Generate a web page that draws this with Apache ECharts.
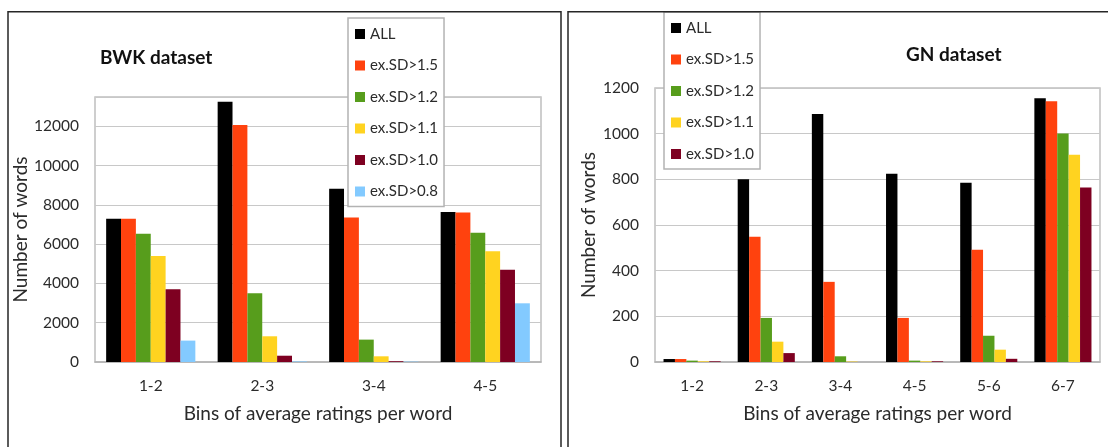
<!DOCTYPE html>
<html>
<head>
<meta charset="utf-8">
<script src="https://cdn.jsdelivr.net/npm/echarts@6/dist/echarts.min.js"></script>
<style>
html,body{margin:0;padding:0;background:#fff;}
#chart{width:1108px;height:447px;}
</style>
</head>
<body>
<div id="chart"></div>
<script>
// ---- Data ----
const seriesNames = ['ALL', 'ex.SD>1.5', 'ex.SD>1.2', 'ex.SD>1.1', 'ex.SD>1.0', 'ex.SD>0.8'];
const seriesColors = ['#000000', '#ff420e', '#579d1c', '#ffd320', '#7e0021', '#83caff'];

const categoriesBWK = ['1-2', '2-3', '3-4', '4-5'];
const bwkAll  = [7300, 13260, 8820, 7640];
const bwkSD15 = [7300, 12070, 7360, 7610];
const bwkSD12 = [6530, 3500, 1140, 6580];
const bwkSD11 = [5400, 1310, 290, 5640];
const bwkSD10 = [3710, 320, 40, 4700];
const bwkSD08 = [1090, 30, 20, 2990];

const categoriesGN = ['1-2', '2-3', '3-4', '4-5', '5-6', '6-7'];
const gnAll  = [13, 800, 1086, 825, 785, 1155];
const gnSD15 = [13, 548, 351, 193, 492, 1142];
const gnSD12 = [6, 193, 25, 6, 115, 1001];
const gnSD11 = [3, 89, 2, 3, 54, 908];
const gnSD10 = [3, 39, 0, 3, 14, 764];

const titleBWK = 'BWK dataset';
const titleGN = 'GN dataset';
const xAxisTitle = 'Bins of average ratings per word';
const yAxisTitle = 'Number of words';

// ---- Chart ----
const FONT = 'Lato';
const TXT = '#2b2b2b';
const chart = echarts.init(document.getElementById('chart'), null, {renderer: 'canvas'});

const bwkData = [bwkAll, bwkSD15, bwkSD12, bwkSD11, bwkSD10, bwkSD08];
const gnData = [gnAll, gnSD15, gnSD12, gnSD11, gnSD10];

const series = [];
bwkData.forEach((d, i) => series.push({
  name: seriesNames[i], type: 'bar', xAxisIndex: 0, yAxisIndex: 0,
  data: d, barGap: '0%', barCategoryGap: '20%',
  itemStyle: {color: seriesColors[i]}
}));
gnData.forEach((d, i) => series.push({
  name: seriesNames[i], type: 'bar', xAxisIndex: 1, yAxisIndex: 1,
  data: d, barGap: '0%', barCategoryGap: '23%',
  itemStyle: {color: seriesColors[i]}
}));

function xAxisCfg(idx, cats) {
  return {
    type: 'category', gridIndex: idx, data: cats,
    axisLine: {show: true, lineStyle: {color: '#b3b3b3', width: 1.5}},
    axisTick: {show: false},
    axisLabel: {color: TXT, fontFamily: FONT, fontSize: 15.5, margin: 16},
    name: xAxisTitle, nameLocation: 'middle', nameGap: 42,
    nameTextStyle: {color: TXT, fontFamily: FONT, fontSize: 19}
  };
}
function yAxisCfg(idx, max, interval, gap) {
  return {
    type: 'value', gridIndex: idx, min: 0, max: max, interval: interval,
    axisLine: {show: false}, axisTick: {show: false},
    axisLabel: {color: TXT, fontFamily: FONT, fontSize: 15.5, margin: 16,
      showMaxLabel: max % interval === 0, formatter: v => String(v)},
    splitLine: {show: true, lineStyle: {color: '#c8c8c8', width: 1}},
    name: yAxisTitle, nameLocation: 'middle', nameGap: gap,
    nameTextStyle: {color: TXT, fontFamily: FONT, fontSize: 19}
  };
}

function legendCfg(names, left, top) {
  return {
    data: names, orient: 'vertical', left: left, top: top,
    itemWidth: 10, itemHeight: 10, itemGap: 15.5,
    padding: [8, 6, 7, 7],
    borderColor: '#b3b3b3', borderWidth: 1.5, backgroundColor: '#ffffff',
    icon: 'rect',
    textStyle: {color: TXT, fontFamily: FONT, fontSize: 15, lineHeight: 16},
    selectedMode: false
  };
}

const frameStyle = {stroke: '#262626', lineWidth: 1.5};

chart.setOption({
  animation: false,
  backgroundColor: '#ffffff',
  textStyle: {fontFamily: FONT},
  title: [
    {text: titleBWK, left: 95, top: 43, textStyle: {fontFamily: FONT, fontSize: 19, fontWeight: 'bold', color: '#111'}},
    {text: titleGN, left: 901, top: 40, textStyle: {fontFamily: FONT, fontSize: 19, fontWeight: 'bold', color: '#111'}}
  ],
  grid: [
    {left: 95, top: 97, right: 567, bottom: 85, show: true, borderColor: '#bfbfbf', borderWidth: 1.5, backgroundColor: 'transparent'},
    {left: 655, top: 88, right: 8, bottom: 85, show: true, borderColor: '#bfbfbf', borderWidth: 1.5, backgroundColor: 'transparent'}
  ],
  xAxis: [xAxisCfg(0, categoriesBWK), xAxisCfg(1, categoriesGN)],
  yAxis: [yAxisCfg(0, 13500, 2000, 62), yAxisCfg(1, 1200, 200, 57)],
  legend: [
    legendCfg(seriesNames, 348, 18),
    legendCfg(seriesNames.slice(0, 5), 664, 12)
  ],
  series: series,
  graphic: [
    {type: 'polyline', silent: true, z: 100, shape: {points: [[8, 447], [8, 11.75], [561, 11.75], [561, 447]]}, style: Object.assign({fill: null}, frameStyle)},
    {type: 'polyline', silent: true, z: 100, shape: {points: [[568, 447], [568, 11.75], [1108, 11.75]]}, style: Object.assign({fill: null}, frameStyle)}
  ]
});
</script>
</body>
</html>
